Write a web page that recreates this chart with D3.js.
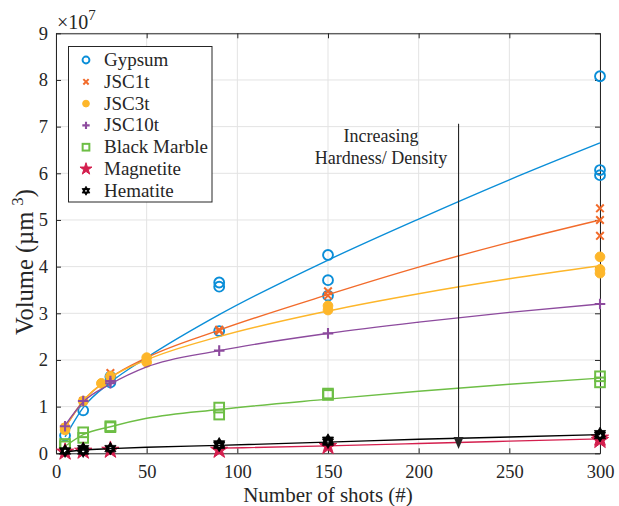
<!DOCTYPE html>
<html><head><meta charset="utf-8">
<script src="https://cdn.jsdelivr.net/npm/d3@7"></script>
<style>body{margin:0;background:#fff}svg{display:block}svg text{font-family:"Liberation Serif","Times New Roman",serif !important;fill:#262626}</style>
</head><body><svg id="c" width="619" height="506"></svg>
<script>
// ---- data (values in units of 1e7 µm^3) ----
const xTicks = [0, 50, 100, 150, 200, 250, 300];
const yTicks = [0, 1, 2, 3, 4, 5, 6, 7, 8, 9];
const seriesNames = ["Gypsum", "JSC1t", "JSC3t", "JSC10t", "Black Marble", "Magnetite", "Hematite"];
const seriesColors = ["#0a8ed8", "#f26b2b", "#fdb62a", "#8d4b9e", "#6dbe45", "#d41f4e", "#000000"];
const seriesMarkers = ["circle", "x", "dot", "plus", "square", "pentagram", "hexagram"];

const gypsumX = [5, 15, 30, 30, 90, 90, 90, 150, 150, 150, 300, 300, 300];
const gypsumY = [0.38, 0.92, 1.64, 1.52, 3.66, 3.57, 2.62, 4.25, 3.71, 3.38, 8.08, 6.07, 5.96];
const jsc1X = [5, 15, 30, 30, 90, 90, 150, 150, 300, 300, 300];
const jsc1Y = [0.55, 1.12, 1.72, 1.62, 2.65, 2.62, 3.47, 3.38, 5.25, 5.0, 4.66];
const jsc3X = [5, 5, 15, 25, 30, 50, 50, 150, 150, 300, 300, 300];
const jsc3Y = [0.5, 0.55, 1.12, 1.5, 1.65, 2.05, 1.95, 3.16, 3.07, 4.21, 3.94, 3.86];
const jsc10X = [5, 15, 30, 30, 90, 150, 300];
const jsc10Y = [0.58, 1.12, 1.55, 1.5, 2.2, 2.57, 3.2];
const marbleX = [5, 5, 15, 15, 30, 30, 90, 90, 150, 150, 300, 300];
const marbleY = [0.2, 0.15, 0.45, 0.33, 0.56, 0.58, 0.98, 0.83, 1.28, 1.25, 1.65, 1.52];
const magnetiteX = [5, 15, 30, 90, 150, 300, 300];
const magnetiteY = [0.03, 0.05, 0.07, 0.07, 0.15, 0.33, 0.28];
const hematiteX = [5, 15, 15, 30, 90, 90, 150, 150, 300, 300];
const hematiteY = [0.05, 0.1, 0.05, 0.1, 0.2, 0.17, 0.28, 0.24, 0.42, 0.38];

// fitted curves
const fitX = [5, 15, 30, 50, 90, 150, 200, 250, 300];
const gypsumFit = [0.35, 0.98, 1.52, 2.05, 2.97, 4.14, 5.02, 5.86, 6.65];
const jsc1Fit = [0.55, 1.12, 1.62, 2.05, 2.64, 3.4, 3.99, 4.52, 5.0];
const jsc3Fit = [0.55, 1.12, 1.62, 2.0, 2.5, 3.05, 3.42, 3.74, 4.02];
const jsc10Fit = [0.6, 1.1, 1.48, 1.85, 2.2, 2.57, 2.81, 3.02, 3.2];
const marbleFit = [0.15, 0.4, 0.57, 0.75, 0.94, 1.16, 1.33, 1.48, 1.61];
const hematiteFit = [0.03, 0.07, 0.1, 0.13, 0.17, 0.24, 0.3, 0.35, 0.4];
const magnetiteFitX = [90, 150, 200, 250, 300];
const magnetiteFit = [0.11, 0.16, 0.21, 0.26, 0.31];

const arrowX = 222, arrowTop = 7.06, arrowTip = 0.09;
const noteLines = ["Increasing", "Hardness/ Density"];

// ---- drawing ----
const svg = d3.select("#c");
const L = 56, R = 600, T = 33.3, B = 453.3;
const x = d3.scaleLinear().domain([0, 300]).range([L, R]);
const y = d3.scaleLinear().domain([0, 9]).range([B, T]);
const axisCol = "#262626";
const FONT = '"Liberation Serif", serif';

// grid
const g = svg.append("g");
g.selectAll("line.gx").data(xTicks).join("line")
  .attr("x1", d => x(d)).attr("x2", d => x(d)).attr("y1", T).attr("y2", B)
  .attr("stroke", "#e3e3e3").attr("stroke-width", 1);
g.selectAll("line.gy").data(yTicks).join("line")
  .attr("y1", d => y(d)).attr("y2", d => y(d)).attr("x1", L).attr("x2", R)
  .attr("stroke", "#e3e3e3").attr("stroke-width", 1);

// axes
const ax = svg.append("g").attr("transform", `translate(0,${B})`)
  .call(d3.axisBottom(x).tickValues(xTicks).tickSizeInner(-5).tickSizeOuter(0).tickPadding(10));
const ay = svg.append("g").attr("transform", `translate(${L},0)`)
  .call(d3.axisLeft(y).tickValues(yTicks).tickSizeInner(-5).tickSizeOuter(0).tickPadding(8));
const axT = svg.append("g").attr("transform", `translate(0,${T})`)
  .call(d3.axisTop(x).tickValues(xTicks).tickSizeInner(-5).tickSizeOuter(0).tickFormat(""));
const ayR = svg.append("g").attr("transform", `translate(${R},0)`)
  .call(d3.axisRight(y).tickValues(yTicks).tickSizeInner(-5).tickSizeOuter(0).tickFormat(""));
[ax, ay, axT, ayR].forEach(a => {
  a.attr("font-family", FONT).attr("font-size", 18.5);
  a.selectAll("path").attr("stroke", axisCol).attr("stroke-width", 1);
  a.selectAll("line").attr("stroke", axisCol).attr("stroke-width", 1);
  a.selectAll("text").attr("font-size", 18.5).attr("fill", axisCol).style("font-family", FONT);
});
ax.selectAll("text").attr("dy", "0.71em").attr("y", 12);

// markers
function marker(sel, type, color, k) {
  if (type === "circle") {
    sel.append("circle").attr("r", 4.3 * k).attr("fill", "none").attr("stroke", color).attr("stroke-width", 1.9);
  } else if (type === "dot") {
    sel.append("circle").attr("r", 4.2 * k).attr("fill", color).attr("stroke", color).attr("stroke-width", 1);
  } else if (type === "x") {
    const a = 3.3 * k;
    sel.append("path").attr("d", `M${-a},${-a}L${a},${a}M${-a},${a}L${a},${-a}`)
      .attr("stroke", color).attr("stroke-width", 2).attr("fill", "none");
  } else if (type === "plus") {
    const a = 4.6 * k;
    sel.append("path").attr("d", `M${-a},0L${a},0M0,${-a}L0,${a}`)
      .attr("stroke", color).attr("stroke-width", 2.1).attr("fill", "none");
  } else if (type === "square") {
    const a = 4.2 * k;
    sel.append("rect").attr("x", -a).attr("y", -a).attr("width", 2 * a).attr("height", 2 * a)
      .attr("fill", "none").attr("stroke", color).attr("stroke-width", 2);
  } else if (type === "pentagram") {
    sel.append("path").attr("d", d3.symbol().type(d3.symbolStar).size(70 * k * k)())
      .attr("fill", color).attr("stroke", color).attr("stroke-width", 1);
  } else if (type === "hexagram") {
    const r = 5.6 * k;
    const tri = off => d3.range(3).map(i => {
      const ang = -Math.PI / 2 + off + i * 2 * Math.PI / 3;
      return [r * Math.cos(ang), r * Math.sin(ang)];
    });
    const p = t => "M" + t.map(q => q.join(",")).join("L") + "Z";
    sel.append("path").attr("d", p(tri(0)) + p(tri(Math.PI / 3)))
      .attr("fill", color).attr("stroke", color).attr("stroke-width", 0.8);
    sel.append("circle").attr("r", 1.1 * k).attr("fill", "#fff");
  }
}

const pts = [[gypsumX, gypsumY], [jsc1X, jsc1Y], [jsc3X, jsc3Y], [jsc10X, jsc10Y],
             [marbleX, marbleY], [magnetiteX, magnetiteY], [hematiteX, hematiteY]];
const fits = [[fitX, gypsumFit], [fitX, jsc1Fit], [fitX, jsc3Fit], [fitX, jsc10Fit],
              [fitX, marbleFit], [magnetiteFitX, magnetiteFit], [fitX, hematiteFit]];
const line = d3.line().x(d => x(d[0])).y(d => y(d[1])).curve(d3.curveMonotoneX);

seriesNames.forEach((name, i) => {
  const [px, py] = pts[i];
  const data = px.map((v, j) => [v, py[j]]);
  const gg = svg.append("g");
  data.forEach(d => {
    const m = gg.append("g").attr("transform", `translate(${x(d[0])},${y(d[1])})`);
    marker(m, seriesMarkers[i], seriesColors[i], 1.15);
  });
  const [fx, fy] = fits[i];
  svg.append("path").datum(fx.map((v, j) => [v, fy[j]]))
    .attr("d", line).attr("fill", "none").attr("stroke", seriesColors[i]).attr("stroke-width", 1.4);
});

// annotation arrow
svg.append("line").attr("x1", x(arrowX)).attr("x2", x(arrowX))
  .attr("y1", y(arrowTop)).attr("y2", y(arrowTip) - 10)
  .attr("stroke", axisCol).attr("stroke-width", 1.1);
const tx = x(arrowX), ty = y(arrowTip);
svg.append("path").attr("d", `M${tx - 5},${ty - 12}L${tx + 5},${ty - 12}L${tx},${ty}Z`)
  .attr("fill", axisCol);
noteLines.forEach((t, i) => {
  svg.append("text").attr("x", 381).attr("y", 142 + i * 22).attr("text-anchor", "middle")
    .attr("font-size", 18).text(t);
});

// legend
const lg = svg.append("g");
lg.append("rect").attr("x", 68.5).attr("y", 46.5).attr("width", 143.5).attr("height", 155.5)
  .attr("fill", "#fff").attr("stroke", axisCol).attr("stroke-width", 1);
seriesNames.forEach((name, i) => {
  const cy = 60 + i * 21.8;
  const m = lg.append("g").attr("transform", `translate(86,${cy})`);
  marker(m, seriesMarkers[i], seriesColors[i], 0.8);
  lg.append("text").attr("x", 104).attr("y", cy + 6).attr("font-size", 19).text(name);
});

// axis labels
svg.append("text").attr("x", (L + R) / 2).attr("y", 502).attr("text-anchor", "middle")
  .attr("font-size", 21).text("Number of shots (#)");
const yl = svg.append("text").attr("transform", "translate(33,262) rotate(-90)")
  .attr("text-anchor", "middle").attr("font-size", 24.5);
yl.append("tspan").text("Volume (µm ");
yl.append("tspan").attr("dy", -10).attr("font-size", 17).text("3");
yl.append("tspan").attr("dy", 10).text(")");

// exponent
const ex = svg.append("text").attr("x", 57).attr("y", 29).attr("font-size", 20);
ex.append("tspan").text("×10");
ex.append("tspan").attr("dy", -9).attr("font-size", 15).text("7");
</script></body></html>
